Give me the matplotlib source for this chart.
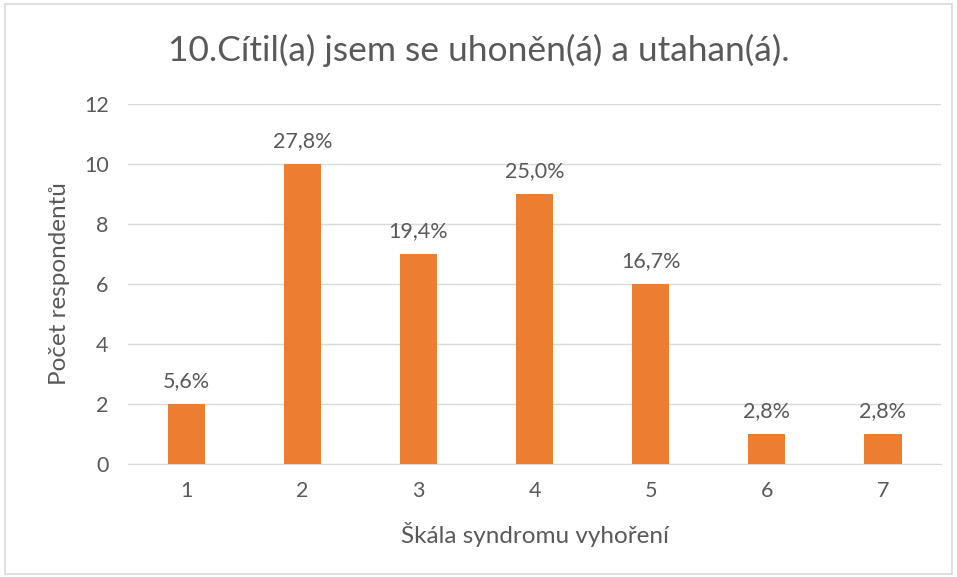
import matplotlib
matplotlib.use("Agg")
import matplotlib.pyplot as plt
from matplotlib.patches import Rectangle

# data
categories = ["1", "2", "3", "4", "5", "6", "7"]
counts = [2, 10, 7, 9, 6, 1, 1]
percent_labels = ["5,6%", "27,8%", "19,4%", "25,0%", "16,7%", "2,8%", "2,8%"]

plt.rcParams["font.family"] = ["Lato", "DejaVu Sans"]
text_color = "#595959"

fig = plt.figure(figsize=(9.57, 5.77), dpi=100)
ax = fig.add_axes([0.1338, 0.1958, 0.8495, 0.624])

x = list(range(len(categories)))
bars = ax.bar(x, counts, width=0.32, color="#ED7D31", zorder=3)

for rect, lab in zip(bars, percent_labels):
    ax.annotate(lab, (rect.get_x() + rect.get_width() / 2, rect.get_height()),
                xytext=(0, 9), textcoords="offset points",
                ha="center", va="bottom", fontsize=15.5, color=text_color)

ax.set_xlim(-0.5, len(categories) - 0.5)
ax.set_ylim(0, 12)
ax.set_yticks(range(0, 13, 2))
ax.set_xticks(x)
ax.set_xticklabels(categories)
ax.tick_params(axis="both", length=0, labelsize=15.5, colors=text_color)
ax.tick_params(axis="x", pad=12)
ax.tick_params(axis="y", pad=14)

ax.grid(axis="y", color="#D9D9D9", linewidth=1, zorder=0)
for s in ["top", "right", "left"]:
    ax.spines[s].set_visible(False)
ax.spines["bottom"].set_color("#D9D9D9")

ax.set_xlabel("Škála syndromu vyhoření", fontsize=17.5, color=text_color, labelpad=15)
ax.set_ylabel("Počet respondentů", fontsize=17.5, color=text_color, labelpad=10)

fig.text(0.5, 0.913, "10.Cítil(a) jsem se uhoněn(á) a utahan(á).", fontsize=25.5,
         color=text_color, ha="center", va="center")

# outer chart frame
fig.patches.append(Rectangle((0.005, 0.005), 0.99, 0.988, transform=fig.transFigure,
                             fill=False, edgecolor="#D9D9D9", linewidth=1.2))

fig.savefig("out.png", dpi=100)
